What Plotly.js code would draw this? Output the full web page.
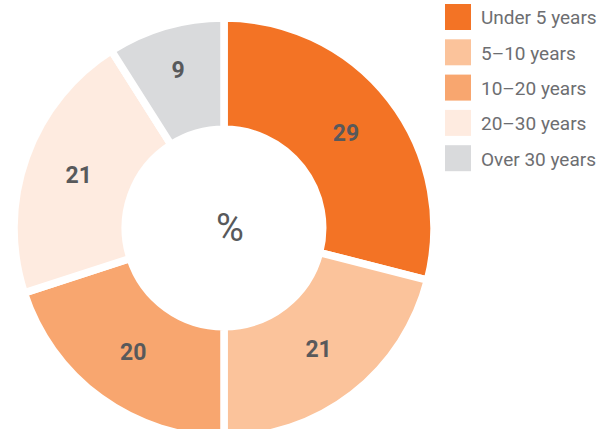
<!DOCTYPE html>
<html>
<head>
<meta charset="utf-8">
<script src="https://cdn.plot.ly/plotly-3.0.1.min.js"></script>
<style>html,body{margin:0;padding:0;overflow:hidden;background:#fff;}#chart{width:613px;height:440px;}</style>
</head>
<body>
<div id="chart"></div>
<script>
const categories = ["Under 5 years", "5\u201310 years", "10\u201320 years", "20\u201330 years", "Over 30 years"];
const shares = [29, 21, 20, 21, 9];
const colors = ["#F37325", "#FBC39B", "#F8A66F", "#FEEBE0", "#D9DADC"];
const centerLabel = "%";

const W = 613, H = 440;
const font = "Roboto, 'Liberation Sans', sans-serif";

const trace = {
  type: "pie",
  labels: categories,
  values: shares,
  sort: false,
  direction: "clockwise",
  rotation: 0,
  hole: 0.47,
  marker: {colors: colors, line: {color: "#ffffff", width: 7.5}},
  texttemplate: "%{value}",
  textposition: "inside",
  insidetextorientation: "horizontal",
  textfont: {family: font, size: 23, color: "#58595B", weight: "bold"},
  domain: {x: [14 / W, 434 / W], y: [(H - 438) / H, (H - 18) / H]},
  showlegend: false,
  hoverinfo: "label+value"
};

const shapes = [];
const annotations = [];
const lx0 = 445, ly0 = 4, sz = 26, step = 35.3;
categories.forEach((c, i) => {
  const y = ly0 + i * step;
  shapes.push({type: "rect", xref: "paper", yref: "paper",
    x0: lx0 / W, x1: (lx0 + sz) / W, y0: 1 - (y + sz) / H, y1: 1 - y / H,
    fillcolor: colors[i], line: {width: 0}});
  annotations.push({xref: "paper", yref: "paper", x: 479 / W, y: 1 - (y + sz / 2 + 1) / H,
    xanchor: "left", yanchor: "middle", text: c, showarrow: false,
    font: {family: font, size: 19, color: "#6D6E71"}});
});
annotations.push({xref: "paper", yref: "paper", x: 230 / W, y: 1 - 228 / H,
  xanchor: "center", yanchor: "middle", text: centerLabel, showarrow: false,
  font: {family: font, size: 38, color: "#58595B"}});

Plotly.newPlot("chart", [trace], {
  width: W, height: H,
  margin: {l: 0, r: 0, t: 0, b: 0},
  paper_bgcolor: "#ffffff",
  shapes: shapes,
  annotations: annotations
}, {displayModeBar: false, staticPlot: true});
</script>
</body>
</html>
